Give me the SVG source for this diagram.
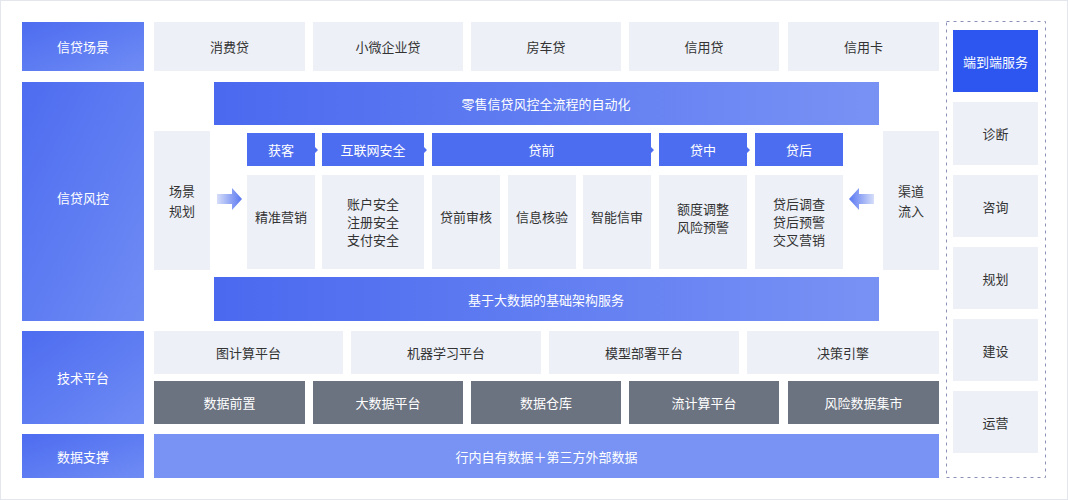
<svg xmlns="http://www.w3.org/2000/svg" width="1068" height="500" viewBox="0 0 1068 500">
<defs>
<linearGradient id="lb" x1="0" y1="0" x2="1" y2="1"><stop offset="0" stop-color="#4d6cf0"/><stop offset="1" stop-color="#6f8cf4"/></linearGradient>
<linearGradient id="bn" x1="0" y1="0" x2="1" y2="0"><stop offset="0" stop-color="#4a69ef"/><stop offset="1" stop-color="#7892f4"/></linearGradient>
<linearGradient id="ar" x1="0" y1="0" x2="1" y2="0"><stop offset="0" stop-color="#d6def9"/><stop offset="1" stop-color="#5877f1"/></linearGradient>
<linearGradient id="al" x1="1" y1="0" x2="0" y2="0"><stop offset="0" stop-color="#d6def9"/><stop offset="1" stop-color="#5877f1"/></linearGradient>
<style>
text{font-family:"Noto Sans CJK SC","Liberation Sans",sans-serif;font-size:13px;text-anchor:middle;dominant-baseline:central}
.g{fill:#edf0f7}.gt{fill:#333}
.w{fill:#fff}
.d{fill:#6b7280}
.h{fill:#4d6df0}
</style>
</defs>
<rect x="0.5" y="0.5" width="1067" height="499" fill="#fff" stroke="#e3e6ec"/>
<g id="labels">
<g id="l1"><rect x="22" y="22" width="122" height="49" fill="url(#lb)"/><text x="83" y="46.5" class="w">信贷场景</text></g>
<g id="l2"><rect x="22" y="82" width="122" height="239" fill="url(#lb)"/><text x="83" y="197" class="w">信贷风控</text></g>
<g id="l3"><rect x="22" y="331" width="122" height="93" fill="url(#lb)"/><text x="83" y="377" class="w">技术平台</text></g>
<g id="l4"><rect x="22" y="434" width="122" height="44" fill="url(#lb)"/><text x="83" y="456" class="w">数据支撑</text></g>
</g>
<g id="scenes">
<rect class="g" x="154" y="22" width="151" height="49"/><text class="gt" x="229.5" y="46.5">消费贷</text>
<rect class="g" x="313" y="22" width="150" height="49"/><text class="gt" x="388" y="46.5">小微企业贷</text>
<rect class="g" x="471" y="22" width="150" height="49"/><text class="gt" x="546" y="46.5">房车贷</text>
<rect class="g" x="629" y="22" width="150" height="49"/><text class="gt" x="704" y="46.5">信用贷</text>
<rect class="g" x="788" y="22" width="151" height="49"/><text class="gt" x="863.5" y="46.5">信用卡</text>
</g>
<g id="risk">
<rect x="214" y="82" width="665" height="43" fill="url(#bn)"/><text class="w" x="546" y="103.5">零售信贷风控全流程的自动化</text>
<rect class="g" x="154" y="131" width="56" height="139"/><text class="gt" x="182" y="190">场景</text><text class="gt" x="182" y="210">规划</text>
<rect class="g" x="883" y="131" width="56" height="139"/><text class="gt" x="911" y="190">渠道</text><text class="gt" x="911" y="210">流入</text>
<g id="heads">
<path class="h" d="M247 133H315V147L318 150L315 153V166H247Z"/><text class="w" x="281" y="149.5">获客</text>
<path class="h" d="M322 133H424V147L427 150L424 153V166H322Z"/><text class="w" x="373" y="149.5">互联网安全</text>
<path class="h" d="M432 133H651V147L654 150L651 153V166H432Z"/><text class="w" x="541.5" y="149.5">贷前</text>
<path class="h" d="M659 133H747V147L750 150L747 153V166H659Z"/><text class="w" x="703" y="149.5">贷中</text>
<rect class="h" x="755" y="133" width="88" height="33"/><text class="w" x="799" y="149.5">贷后</text>
</g>
<g id="cells">
<rect class="g" x="247" y="175" width="68" height="94"/><text class="gt" x="281" y="216">精准营销</text>
<rect class="g" x="322" y="175" width="102" height="94"/><text class="gt" x="373" y="203">账户安全</text><text class="gt" x="373" y="221">注册安全</text><text class="gt" x="373" y="239">支付安全</text>
<rect class="g" x="432" y="175" width="68" height="94"/><text class="gt" x="466" y="216">贷前审核</text>
<rect class="g" x="508" y="175" width="68" height="94"/><text class="gt" x="542" y="216">信息核验</text>
<rect class="g" x="583" y="175" width="68" height="94"/><text class="gt" x="617" y="216">智能信审</text>
<rect class="g" x="659" y="175" width="88" height="94"/><text class="gt" x="703" y="208">额度调整</text><text class="gt" x="703" y="226">风险预警</text>
<rect class="g" x="755" y="175" width="88" height="94"/><text class="gt" x="799" y="203">贷后调查</text><text class="gt" x="799" y="221">贷后预警</text><text class="gt" x="799" y="239">交叉营销</text>
</g>
<path d="M217 194H232V188L242 199L232 210V204H217Z" fill="url(#ar)"/>
<path d="M874 194H859V188L849 199L859 210V204H874Z" fill="url(#al)"/>
<rect x="214" y="277" width="665" height="44" fill="url(#bn)"/><text class="w" x="546" y="299">基于大数据的基础架构服务</text>
</g>
<g id="tech">
<rect class="g" x="154" y="331" width="189" height="43"/><text class="gt" x="248.5" y="352.5">图计算平台</text>
<rect class="g" x="351" y="331" width="190" height="43"/><text class="gt" x="446" y="352.5">机器学习平台</text>
<rect class="g" x="549" y="331" width="190" height="43"/><text class="gt" x="644" y="352.5">模型部署平台</text>
<rect class="g" x="747" y="331" width="192" height="43"/><text class="gt" x="843" y="352.5">决策引擎</text>
<rect class="d" x="154" y="381" width="151" height="43"/><text class="w" x="229.5" y="402.5">数据前置</text>
<rect class="d" x="313" y="381" width="150" height="43"/><text class="w" x="388" y="402.5">大数据平台</text>
<rect class="d" x="471" y="381" width="150" height="43"/><text class="w" x="546" y="402.5">数据仓库</text>
<rect class="d" x="629" y="381" width="150" height="43"/><text class="w" x="704" y="402.5">流计算平台</text>
<rect class="d" x="788" y="381" width="151" height="43"/><text class="w" x="863.5" y="402.5">风险数据集市</text>
</g>
<g id="data"><rect x="154" y="434" width="785" height="44" fill="#7893f4"/><text class="w" x="546.5" y="456">行内自有数据＋第三方外部数据</text></g>
<g id="e2e">
<rect x="946.5" y="21.5" width="99" height="456" fill="none" stroke="#8a93b5" stroke-dasharray="3 4"/>
<rect x="953" y="30" width="85" height="62" fill="#2c56ef"/><text class="w" x="995.5" y="61">端到端服务</text>
<rect class="g" x="953" y="102" width="85" height="63"/><text class="gt" x="995.5" y="133.5">诊断</text>
<rect class="g" x="953" y="175" width="85" height="62"/><text class="gt" x="995.5" y="206">咨询</text>
<rect class="g" x="953" y="247" width="85" height="62"/><text class="gt" x="995.5" y="278">规划</text>
<rect class="g" x="953" y="319" width="85" height="62"/><text class="gt" x="995.5" y="350">建设</text>
<rect class="g" x="953" y="391" width="85" height="62"/><text class="gt" x="995.5" y="422">运营</text>
</g>
</svg>
